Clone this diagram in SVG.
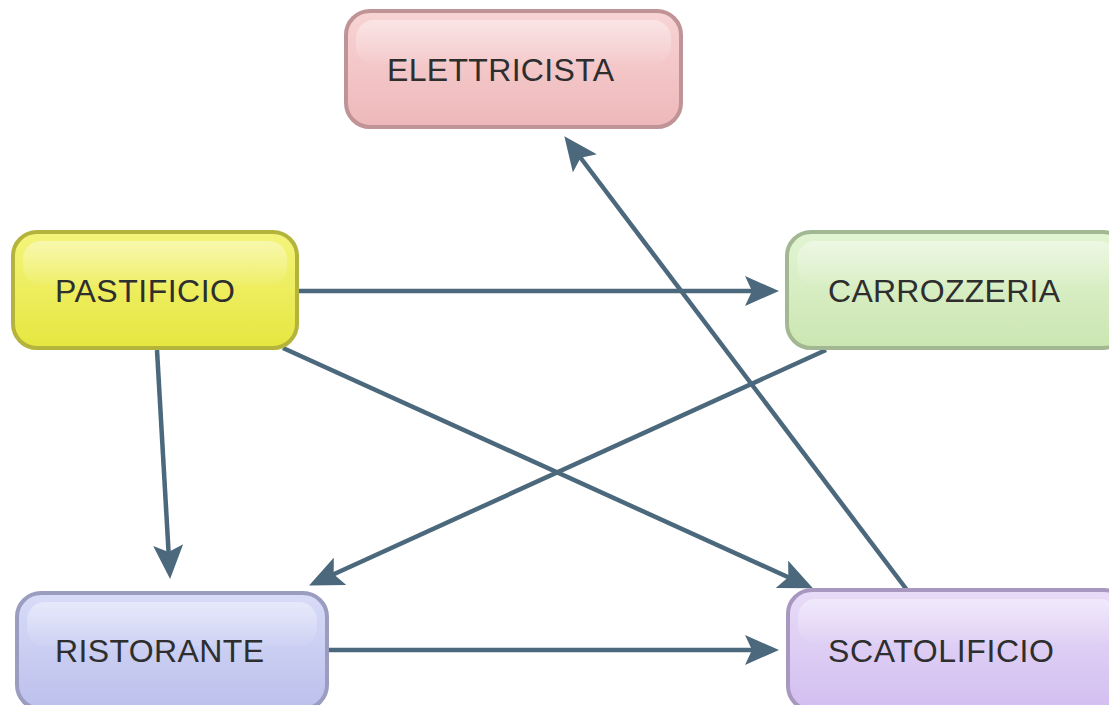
<svg xmlns="http://www.w3.org/2000/svg" width="1109" height="705" viewBox="0 0 1109 705">
<defs>
  <linearGradient id="gPink" x1="0" y1="0" x2="0" y2="1"><stop offset="0" stop-color="#f8d4d5"/><stop offset="1" stop-color="#eeb8ba"/></linearGradient>
  <linearGradient id="gYellow" x1="0" y1="0" x2="0" y2="1"><stop offset="0" stop-color="#f4f47c"/><stop offset="1" stop-color="#e6e640"/></linearGradient>
  <linearGradient id="gGreen" x1="0" y1="0" x2="0" y2="1"><stop offset="0" stop-color="#e2f4d2"/><stop offset="1" stop-color="#cce6b2"/></linearGradient>
  <linearGradient id="gBlue" x1="0" y1="0" x2="0" y2="1"><stop offset="0" stop-color="#d8dcf8"/><stop offset="1" stop-color="#bcc0ec"/></linearGradient>
  <linearGradient id="gPurple" x1="0" y1="0" x2="0" y2="1"><stop offset="0" stop-color="#e8dcf8"/><stop offset="1" stop-color="#d2bef0"/></linearGradient>
  <linearGradient id="gloss" x1="0" y1="0" x2="0" y2="1"><stop offset="0" stop-color="#ffffff" stop-opacity="0.4"/><stop offset="1" stop-color="#ffffff" stop-opacity="0.05"/></linearGradient>
  <marker id="arr" markerUnits="userSpaceOnUse" markerWidth="34" markerHeight="30" viewBox="0 0 34 30" refX="13" refY="15" orient="auto">
    <path d="M0,0 L34,15 L0,30 L7,15 z" fill="#4b687c"/>
  </marker>
</defs>
<style>
  .box { stroke-width: 4; }
  .gl { fill: url(#gloss); }
  .lbl { font-family: "Liberation Sans", Arial, sans-serif; font-size: 32px; fill: #2e2e2e; }
  .c { stroke: #4b687c; stroke-width: 4.5; fill: none; marker-end: url(#arr); }
</style>
<rect width="1109" height="705" fill="#ffffff"/>
<g id="connectors">
  <line class="c" x1="298" y1="291" x2="758" y2="291"/>
  <line class="c" x1="157" y1="350" x2="168.9" y2="558"/>
  <line class="c" x1="283" y1="348" x2="793.8" y2="579.7"/>
  <line class="c" x1="826" y1="350" x2="328.2" y2="576.7"/>
  <line class="c" x1="328" y1="650" x2="758" y2="650"/>
  <line class="c" x1="907" y1="590" x2="577" y2="153"/>
</g>
<g id="elettricista">
  <rect class="box" x="346" y="11" width="335" height="116" rx="24" fill="url(#gPink)" stroke="#c09496"/>
  <rect class="gl" x="356" y="20" width="315" height="44" rx="18"/>
  <text class="lbl" x="387" y="81" textLength="227">ELETTRICISTA</text>
</g>
<g id="pastificio">
  <rect class="box" x="13" y="232" width="284" height="116" rx="24" fill="url(#gYellow)" stroke="#b4b43c"/>
  <rect class="gl" x="23" y="241" width="264" height="44" rx="18"/>
  <text class="lbl" x="55" y="302" textLength="180">PASTIFICIO</text>
</g>
<g id="carrozzeria">
  <rect class="box" x="787" y="232" width="340" height="116" rx="24" fill="url(#gGreen)" stroke="#a2b892"/>
  <rect class="gl" x="797" y="241" width="320" height="44" rx="18"/>
  <text class="lbl" x="828" y="302" textLength="232">CARROZZERIA</text>
</g>
<g id="ristorante">
  <rect class="box" x="17" y="593" width="310" height="116" rx="24" fill="url(#gBlue)" stroke="#9a9cc0"/>
  <rect class="gl" x="27" y="602" width="290" height="44" rx="18"/>
  <text class="lbl" x="55" y="662" textLength="209">RISTORANTE</text>
</g>
<g id="scatolificio">
  <rect class="box" x="788" y="590" width="340" height="120" rx="24" fill="url(#gPurple)" stroke="#a898c0"/>
  <rect class="gl" x="798" y="599" width="320" height="44" rx="18"/>
  <text class="lbl" x="828" y="662" textLength="226">SCATOLIFICIO</text>
</g>
</svg>
